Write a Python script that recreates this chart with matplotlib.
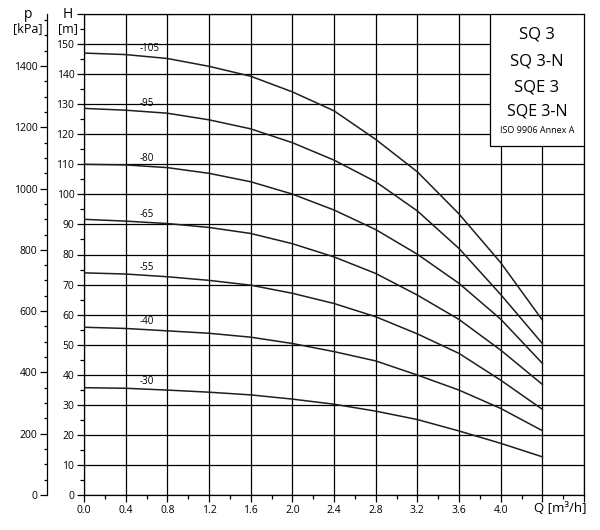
import matplotlib
matplotlib.use("Agg")
import matplotlib.pyplot as plt
import matplotlib.transforms as mtransforms
from matplotlib.patches import Rectangle
import numpy as np

plt.rcParams['font.family'] = ['Open Sans', 'DejaVu Sans']

# flow Q [m3/h] and head H [m] per pump curve
q = [0.0, 0.4, 0.8, 1.2, 1.6, 2.0, 2.4, 2.8, 3.2, 3.6, 4.0, 4.4]
curve_names = ['-105', '-95', '-80', '-65', '-55', '-40', '-30']
h_105 = [147.0, 146.5, 145.2, 142.6, 139.3, 134.1, 127.8, 118.3, 107.5, 93.5, 77.3, 58.2]
h_95 = [128.6, 128.0, 127.0, 124.8, 121.8, 117.2, 111.4, 104.2, 94.5, 82.0, 66.7, 50.4]
h_80 = [110.0, 109.8, 108.9, 107.0, 104.2, 100.1, 94.8, 88.3, 80.1, 70.4, 58.5, 43.8]
h_65 = [91.7, 91.1, 90.3, 89.0, 87.0, 83.6, 79.2, 73.7, 66.5, 58.4, 48.2, 36.8]
h_55 = [73.9, 73.5, 72.6, 71.4, 69.8, 67.1, 63.7, 59.3, 53.6, 47.1, 38.2, 28.5]
h_40 = [55.8, 55.4, 54.6, 53.8, 52.5, 50.4, 47.7, 44.6, 39.9, 34.9, 28.8, 21.4]
h_30 = [35.7, 35.5, 34.9, 34.2, 33.3, 31.9, 30.2, 27.9, 25.1, 21.3, 17.2, 12.7]
heads = [h_105, h_95, h_80, h_65, h_55, h_40, h_30]

x_ticks = [0.0, 0.4, 0.8, 1.2, 1.6, 2.0, 2.4, 2.8, 3.2, 3.6, 4.0, 4.4, 4.8]
x_labels = ['0.0', '0.4', '0.8', '1.2', '1.6', '2.0', '2.4', '2.8', '3.2', '3.6', '4.0', '', '']
h_ticks = list(range(0, 161, 10))
h_labels = [str(v) for v in range(0, 151, 10)] + ['']
p_ticks = list(range(0, 1401, 200))
legend_lines = ['SQ 3', 'SQ 3-N', 'SQE 3', 'SQE 3-N', 'ISO 9906 Annex A']

fig = plt.figure(figsize=(6, 5.3), dpi=100)
ax = fig.add_axes([84 / 600, 35 / 530, 500 / 600, 481 / 530])
ax.set_xlim(0, 4.8)
ax.set_ylim(0, 160)

ax.set_xticks(x_ticks)
ax.set_xticklabels(x_labels)
ax.set_xticks(np.arange(0, 4.81, 0.2), minor=True)
ax.set_yticks(h_ticks)
ax.set_yticklabels(h_labels)
ax.set_yticks(range(0, 161, 5), minor=True)
ax.tick_params(which='major', length=5, width=0.9, labelsize=7.5, pad=2, colors='black')
ax.tick_params(which='minor', length=3, width=0.9)
ax.grid(True, which='major', color='black', linewidth=0.9)
for s in ax.spines.values():
    s.set_linewidth(0.9)

for name, h in zip(curve_names, heads):
    ax.plot(q, h, color='#1e1e1e', linewidth=1.1, zorder=4)
    ax.text(0.53, np.interp(0.6, q, h) + 2.6, name, fontsize=7, ha='left', va='center', zorder=5)

# pressure axis on the far left
secax = ax.secondary_yaxis(-37 / 500, functions=(lambda h: h * 9.81, lambda p: p / 9.81))
secax.set_yticks(p_ticks)
secax.set_yticks(range(0, 1551, 50), minor=True)
secax.tick_params(which='major', length=5, width=0.9, labelsize=7.5, pad=2)
secax.tick_params(which='minor', length=2.5, width=0.9)
secax.spines['left'].set_linewidth(0.9)

trans = mtransforms.blended_transform_factory(fig.transFigure, ax.transData)
fig.text(68 / 600, 160, 'H', transform=trans, fontsize=10, ha='center', va='center')
fig.text(68 / 600, 155, '[m]', transform=trans, fontsize=9, ha='center', va='center')
fig.text(28 / 600, 160, 'p', transform=trans, fontsize=10, ha='center', va='center')
fig.text(28 / 600, 155, '[kPa]', transform=trans, fontsize=9, ha='center', va='center')
ax.text(4.57, -2.3, 'Q [m\u00b3/h]', fontsize=9.5, ha='center', va='top')

# model box
ax.add_patch(Rectangle((3.896, 116.1), 4.8 - 3.896, 160 - 116.1, facecolor='white',
                       edgecolor='black', linewidth=0.9, zorder=6))
ys = [153.3, 144.3, 135.7, 127.7, 121.4]
sizes = [12, 12, 12, 11.5, 6.5]
for txt, y, fs in zip(legend_lines, ys, sizes):
    ax.text(4.347, y, txt, fontsize=fs, ha='center', va='center', zorder=7)

plt.savefig('out.png', dpi=100)
